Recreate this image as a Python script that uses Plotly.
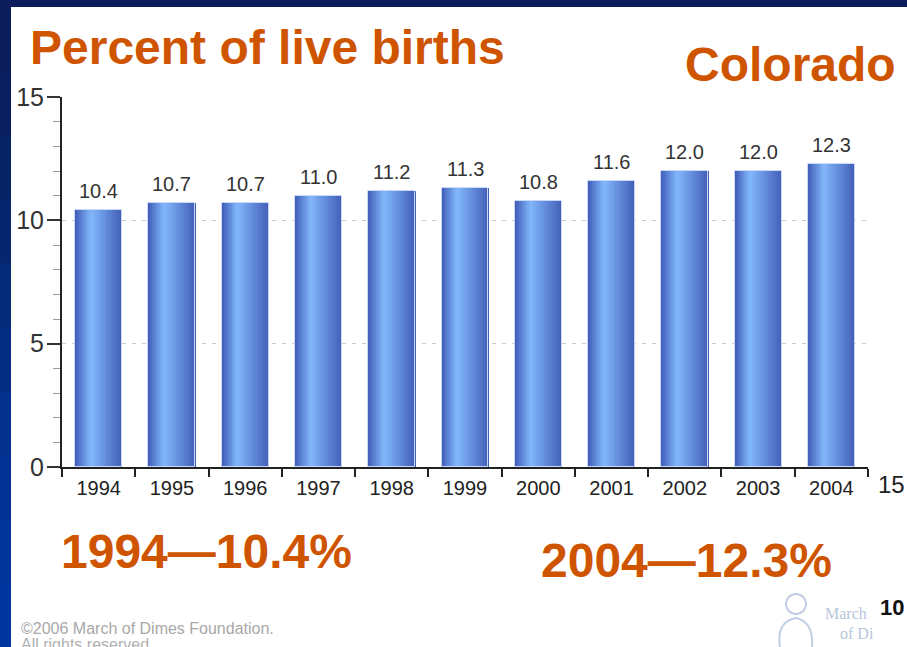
import plotly.graph_objects as go

# ---- data ----
years = ["1994", "1995", "1996", "1997", "1998", "1999", "2000", "2001", "2002", "2003", "2004"]
percent = [10.4, 10.7, 10.7, 11.0, 11.2, 11.3, 10.8, 11.6, 12.0, 12.0, 12.3]
y_ticks = [0, 5, 10, 15]
title_text = "Percent of live births"
state_text = "Colorado"
first_note = "1994\u201410.4%"
last_note = "2004\u201412.3%"

W, H = 907, 647
L, R, T, B = 62, 868, 97, 467  # plot area pixels


def px(x):
    return (x - L) / (R - L)


def py(y):
    return (B - y) / (B - T)


ORANGE = "#CF5400"
FONT = "Liberation Sans, Arial, sans-serif"

fig = go.Figure()

# gradient bars built from thin slices
BW = 0.64
N = 24
stops = [(0.0, (64, 92, 184)), (0.33, (130, 184, 252)), (1.0, (66, 94, 184))]


def col(t):
    for (t0, c0), (t1, c1) in zip(stops[:-1], stops[1:]):
        if t0 <= t <= t1:
            f = (t - t0) / (t1 - t0)
            c = [round(a + (b - a) * f) for a, b in zip(c0, c1)]
            return "rgb(%d,%d,%d)" % tuple(c)
    return "rgb(%d,%d,%d)" % stops[-1][1]


sw = BW / N
for k in range(N):
    t = (k + 0.5) / N
    fig.add_trace(go.Bar(
        x=years, y=percent, width=sw * 1.2, offset=-BW / 2 + k * sw,
        marker=dict(color=col(t), line=dict(width=0)),
        hoverinfo="skip", showlegend=False,
    ))
# light outline
fig.add_trace(go.Bar(
    x=years, y=percent, width=BW, offset=-BW / 2,
    marker=dict(color="rgba(0,0,0,0)", line=dict(color="#c9d8f6", width=1)),
    hoverinfo="skip", showlegend=False,
))

# value labels (category index positions)
for i, v in enumerate(percent):
    fig.add_annotation(x=i, y=v, xref="x", yref="y", text=f"{v:.1f}",
                       showarrow=False, yanchor="bottom", yshift=6,
                       font=dict(family=FONT, size=20, color="#333333"))

# hidden overlay axis for dotted grid at 5 and 10
fig.add_trace(go.Scatter(x=[years[0]], y=[0], yaxis="y2", mode="markers",
                         marker=dict(opacity=0), hoverinfo="skip", showlegend=False))

fig.update_layout(
    width=W, height=H,
    margin=dict(l=L, r=W - R, t=T, b=H - B, pad=0, autoexpand=False),
    paper_bgcolor="white", plot_bgcolor="rgba(0,0,0,0)",
    barmode="overlay", bargap=0,
    showlegend=False,
    xaxis=dict(type="category", range=[-0.5, len(years) - 0.5],
               showline=True, linecolor="#222222", linewidth=2,
               ticks="outside", tickson="boundaries", ticklen=8, tickcolor="#222222", tickwidth=2,
               tickfont=dict(family=FONT, size=20, color="#222222"),
               showgrid=False, zeroline=False, ticklabelstandoff=2),
    yaxis=dict(range=[0, 15], tickvals=y_ticks, showline=True, linecolor="#222222", linewidth=2,
               ticks="outside", ticklen=13, tickcolor="#333333", tickwidth=2,
               tickfont=dict(family=FONT, size=25, color="#333333"),
               showgrid=False, zeroline=False, ticklabelstandoff=-2,
               minor=dict(dtick=1, ticks="outside", ticklen=7, tickcolor="#999999", tickwidth=1)),
    yaxis2=dict(range=[0, 15], overlaying="y", tickvals=[5, 10], showticklabels=False,
                showgrid=True, gridcolor="#cccccc", griddash="4px,6px", gridwidth=1,
                showline=False, zeroline=False, ticks=""),
)

# slide frame (navy bands)
fig.add_shape(type="rect", xref="paper", yref="paper", x0=px(0), x1=px(W), y0=py(7), y1=py(0),
              fillcolor="#0b1d5a", line_width=0, layer="above")
band_cols = ["#0b1d5a", "#0a1f60", "#082266", "#06266e", "#052a78", "#042d82",
             "#03308c", "#023294", "#02349a", "#0135a0"]
nb = len(band_cols)
for i, c in enumerate(band_cols):
    fig.add_shape(type="rect", xref="paper", yref="paper", x0=px(0), x1=px(11),
                  y0=py(7 + (i + 1) * (H - 7) / nb + 1), y1=py(7 + i * (H - 7) / nb),
                  fillcolor=c, line_width=0, layer="above")

# big orange texts
def txt(text, x, y, size, color=ORANGE, bold=True, xanchor="left", family=FONT):
    t = f"<b>{text}</b>" if bold else text
    fig.add_annotation(xref="paper", yref="paper", x=px(x), y=py(y), text=t,
                       showarrow=False, xanchor=xanchor, yanchor="middle",
                       font=dict(family=family, size=size, color=color))


txt(title_text, 28, 47, 48)
txt(state_text, 683, 64, 48)
txt(first_note, 59, 551, 48)
txt(last_note, 539, 560, 48)

# stray slide texts
txt("15", 876, 484, 24, color="#222222", bold=False)
txt("10", 878, 607, 22, color="#111111", bold=True)

# footer
txt("\u00a92006 March of Dimes Foundation.", 19, 628, 16, color="#a8a8a8", bold=False)
txt("All rights reserved", 19, 644, 16, color="#b0b0b0", bold=False)
txt("March", 823, 613, 16, color="#b8c6dc", bold=False, family="Liberation Serif, serif")
txt("of Di", 838, 633, 16, color="#b8c6dc", bold=False, family="Liberation Serif, serif")

# logo outline (mother & child)
fig.add_shape(type="circle", xref="paper", yref="paper", x0=px(786), x1=px(806), y0=py(614), y1=py(594),
              line=dict(color="#c2cfe2", width=2), fillcolor="rgba(0,0,0,0)", layer="above")
fig.add_shape(type="path", xref="paper", yref="paper",
              path=f"M {px(780)} {py(647)} Q {px(776)} {py(622)} {px(796)} {py(618)} Q {px(814)} {py(622)} {px(812)} {py(647)}",
              line=dict(color="#c2cfe2", width=2), layer="above")

fig.write_html("out.html", config={"displayModeBar": False},
               post_script="document.body.style.margin='0';document.body.style.overflow='hidden';")
